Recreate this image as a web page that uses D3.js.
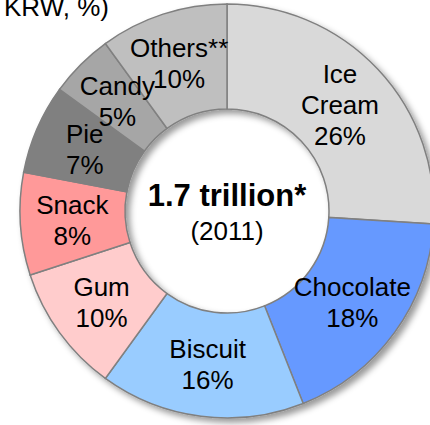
<!DOCTYPE html>
<html>
<head>
<meta charset="utf-8">
<script src="https://cdn.jsdelivr.net/npm/d3@7/dist/d3.min.js"></script>
<style>
html,body{margin:0;padding:0;background:#fff;}
svg{display:block;font-family:"Liberation Sans",Arial,sans-serif;}
</style>
</head>
<body>
<svg id="chart" width="430" height="425"></svg>
<script>
const categories = ["Ice Cream", "Chocolate", "Biscuit", "Gum", "Snack", "Pie", "Candy", "Others**"];
const values = [26, 18, 16, 10, 8, 7, 5, 10];
const colors = ["#d9d9d9", "#6699ff", "#99ccff", "#ffcccc", "#ff9999", "#808080", "#a6a6a6", "#bfbfbf"];
const labelLines = [["Ice", "Cream"], ["Chocolate"], ["Biscuit"], ["Gum"], ["Snack"], ["Pie"], ["Candy"], ["Others**"]];
const centerTitle = "1.7 trillion*";
const centerSub = "(2011)";
const headerText = "KRW, %)";

const svg = d3.select("#chart");
const cx = 227, cy = 211, rOuter = 207, rInner = 102, rLabel = 155;

const defs = svg.append("defs");
const f = defs.append("filter").attr("id", "shadow").attr("x", "-20%").attr("y", "-20%").attr("width", "140%").attr("height", "140%");
f.append("feDropShadow").attr("dx", 4).attr("dy", 4).attr("stdDeviation", 3).attr("flood-color", "#000").attr("flood-opacity", 0.4);

svg.append("text").attr("x", 109).attr("y", 16).attr("text-anchor", "end")
  .attr("font-size", 26).attr("fill", "#000").text(headerText);

const data = categories.map((c, i) => ({ name: c, value: values[i], color: colors[i], lines: labelLines[i] }));
const pie = d3.pie().value(d => d.value).sort(null);
const arcs = pie(data);
const arc = d3.arc().innerRadius(rInner).outerRadius(rOuter);
const labelArc = d3.arc().innerRadius(rLabel).outerRadius(rLabel);

const g = svg.append("g").attr("transform", `translate(${cx},${cy})`);
const ring = g.append("g").attr("filter", "url(#shadow)");
ring.selectAll("path").data(arcs).join("path")
  .attr("d", arc)
  .attr("fill", d => d.data.color)
  .attr("stroke", "#808080")
  .attr("stroke-width", 1.5);

const lineH = 31;
const labels = g.append("g").attr("font-size", 26).attr("fill", "#000").attr("text-anchor", "middle");
arcs.forEach(d => {
  const [x, y] = labelArc.centroid(d);
  const lines = d.data.lines.concat([d.data.value + "%"]);
  const n = lines.length;
  const t = labels.append("text").attr("x", x).attr("y", y);
  lines.forEach((ln, i) => {
    t.append("tspan").attr("x", x)
      .attr("y", y + (i - (n - 1) / 2) * lineH + 9)
      .text(ln);
  });
});

g.append("text").attr("x", 0).attr("y", -5).attr("text-anchor", "middle")
  .attr("font-size", 31).attr("font-weight", "bold").text(centerTitle);
g.append("text").attr("x", 0).attr("y", 29).attr("text-anchor", "middle")
  .attr("font-size", 26).text(centerSub);
</script>
</body>
</html>
